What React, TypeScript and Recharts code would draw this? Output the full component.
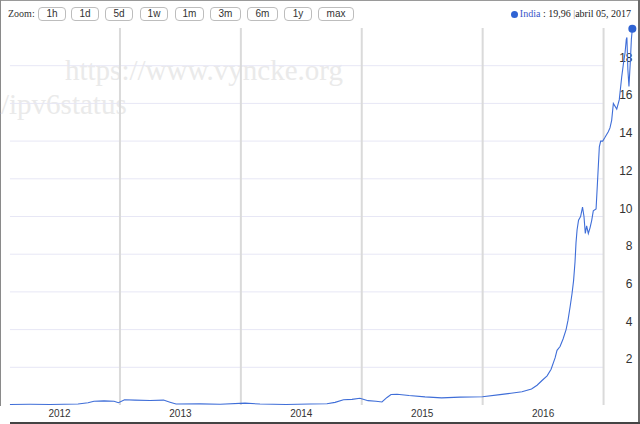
import React from 'react';
import { LineChart, Line, XAxis, YAxis, ReferenceLine, ReferenceDot } from 'recharts';

// decimal-year dates of the samples
const dates = [
  2012.09, 2012.256, 2012.421, 2012.653, 2012.736, 2012.785, 2012.868, 2012.951, 2012.988,
  2013.038, 2013.124, 2013.249, 2013.36, 2013.414, 2013.464, 2013.662, 2013.828,
  2014.034, 2014.158, 2014.373, 2014.572, 2014.712, 2014.779, 2014.849, 2014.919, 2014.985,
  2015.052, 2015.118, 2015.167, 2015.209, 2015.242, 2015.292, 2015.391, 2015.523, 2015.66,
  2015.813, 2015.999, 2016.143, 2016.234, 2016.325, 2016.404, 2016.45, 2016.491, 2016.533,
  2016.566, 2016.599, 2016.615, 2016.64, 2016.665, 2016.69, 2016.706, 2016.723, 2016.739,
  2016.752, 2016.764, 2016.772, 2016.781, 2016.793, 2016.81, 2016.826, 2016.838, 2016.849,
  2016.86, 2016.874, 2016.888, 2016.902, 2016.915, 2016.938, 2016.948, 2016.965, 2016.976,
  2016.993, 2017.012, 2017.039, 2017.053, 2017.067, 2017.081, 2017.109, 2017.13, 2017.15,
  2017.164, 2017.178, 2017.188, 2017.193, 2017.201, 2017.21, 2017.222, 2017.23, 2017.238,
];

// India IPv6 share (%)
const india = [
  0.03, 0.04, 0.03, 0.05, 0.12, 0.2, 0.22, 0.2, 0.12,
  0.28, 0.26, 0.24, 0.26, 0.15, 0.05, 0.06, 0.04,
  0.1, 0.05, 0.03, 0.05, 0.07, 0.14, 0.28, 0.3, 0.36,
  0.23, 0.2, 0.16, 0.4, 0.56, 0.57, 0.5, 0.43, 0.38,
  0.42, 0.44, 0.55, 0.62, 0.7, 0.85, 1.05, 1.3, 1.55,
  1.9, 2.5, 2.9, 3.1, 3.5, 4.0, 4.5, 5.2, 5.9,
  6.6, 7.6, 8.6, 9.3, 9.8, 10.0, 10.5, 10.0, 9.1,
  9.5, 9.1, 9.4, 9.8, 10.3, 10.4, 11.6, 13.7, 14.0,
  14.0, 14.2, 14.5, 14.7, 15.1, 16.0, 15.7, 16.2, 17.4,
  18.1, 18.7, 19.4, 19.5, 17.8, 16.9, 18.3, 19.4, 19.96,
];

const yTicks = [2, 4, 6, 8, 10, 12, 14, 16, 18];
const yearTicks = [2012.5, 2013.5, 2014.5, 2015.5, 2016.5];
const yearLabels = ['2012', '2013', '2014', '2015', '2016'];
const yearBoundaries = [2013, 2014, 2015, 2016, 2017];
const zoomButtons = ['1h', '1d', '5d', '1w', '1m', '3m', '6m', '1y', 'max'];
const zoomButtonX = [38, 71, 105, 140, 175, 210, 247, 284, 318];
const zoomButtonW = [28, 28, 28, 28, 29, 31, 31, 28, 36];
const seriesName = 'India';
const lastValueText = '19,96';
const lastDateText = 'abril 05, 2017';
const watermark1 = 'https://www.vyncke.org';
const watermark2 = '/ipv6status';

const xDomain: [number, number] = [2012.074, 2017.26];
const data = dates.map((t, i) => ({ t, v: india[i] }));

const LINE_BLUE = '#3f6ed8';

const XTick = (props: any) => {
  const { x, y, payload } = props;
  const idx = yearTicks.indexOf(payload.value);
  return (
    <text x={x} y={y} dy={3.6} textAnchor="middle" fontSize={10}
      fontFamily="'Liberation Sans', Arial, sans-serif" fill="#333">
      {idx >= 0 ? yearLabels[idx] : ''}
    </text>
  );
};

const makeYLabel = (value: number) => (props: any) => {
  const vb = props.viewBox || {};
  return (
    <text x={vb.x + vb.width - 2.5} y={vb.y} dy={-4} textAnchor="end" fontSize={12}
      fontFamily="'Liberation Sans', Arial, sans-serif" fill="#333">
      {value}
    </text>
  );
};

export default function App() {
  const last = data[data.length - 1];
  return (
    <div style={{ position: 'absolute', left: 0, top: 0, width: 640, height: 424, background: '#fff', overflow: 'hidden' }}>
      {/* frame */}
      <div style={{ position: 'absolute', left: 0, top: 0, width: 640, height: 1, background: '#9a9a9a' }} />
      <div style={{ position: 'absolute', left: 0, top: 0, width: 1, height: 406, background: '#8a8a8a' }} />
      <div style={{ position: 'absolute', left: 638, top: 0, width: 2, height: 424, background: '#6a6a6a' }} />
      <div style={{ position: 'absolute', left: 10, top: 422, width: 630, height: 2, background: '#444' }} />

      {/* watermark */}
      <svg width={640} height={424} style={{ position: 'absolute', left: 0, top: 0 }}>
        <text x={65} y={80} fontSize={29} fontFamily="'Liberation Serif', 'Times New Roman', serif" fill="#eaeaea">{watermark1}</text>
        <text x={1} y={114} fontSize={29} fontFamily="'Liberation Serif', 'Times New Roman', serif" fill="#eaeaea">{watermark2}</text>
      </svg>

      {/* toolbar */}
      <div style={{ position: 'absolute', left: 8, top: 7, fontFamily: "'Liberation Serif', 'Times New Roman', serif", fontSize: 10, color: '#333', lineHeight: '14px' }}>Zoom:</div>
      {zoomButtons.map((b, i) => (
        <div key={b} style={{
          position: 'absolute', left: zoomButtonX[i], top: 7, width: zoomButtonW[i] - 2, height: 12,
          border: '1px solid #bdbdbd', borderRadius: 4, fontFamily: "'Liberation Sans', Arial, sans-serif",
          fontSize: 10, color: '#333', textAlign: 'center', lineHeight: '12px', background: '#fff',
        }}>{b}</div>
      ))}

      {/* legend */}
      <div style={{ position: 'absolute', right: 9, top: 7, fontFamily: "'Liberation Serif', 'Times New Roman', serif", fontSize: 10, color: '#222', lineHeight: '14px', whiteSpace: 'nowrap', display: 'flex', alignItems: 'center' }}>
        <span style={{ display: 'inline-block', width: 7, height: 7, borderRadius: '50%', background: '#2f63d3', marginRight: 2 }} />
        <span style={{ color: '#3a55c8' }}>{seriesName}</span>
        <span>&nbsp;: {lastValueText}&nbsp;</span>
        <span style={{ color: '#888' }}>|</span>
        <span>{lastDateText}</span>
      </div>

      <div style={{ position: 'absolute', left: 0, top: 0 }}>
        <LineChart width={640} height={424} data={data} margin={{ top: 28, right: 5, bottom: 0, left: 8 }}>
          <XAxis dataKey="t" type="number" domain={xDomain} allowDataOverflow ticks={yearTicks}
            axisLine={false} tickLine={false} height={19} tick={<XTick />} interval={0} />
          <YAxis type="number" domain={[0, 20]} hide allowDataOverflow />
          {yTicks.map((v) => (
            <ReferenceLine key={'h' + v} segment={[{ x: 2012.09, y: v }, { x: 2017, y: v }]} stroke="#e7e7f5" strokeWidth={1} />
          ))}
          {yearBoundaries.map((yb) => (
            <ReferenceLine key={'v' + yb} x={yb} stroke="#dadada" strokeWidth={2} />
          ))}
          {yTicks.map((v) => (
            <ReferenceLine key={'l' + v} y={v} stroke="none" strokeOpacity={0} label={makeYLabel(v)} />
          ))}
          <Line type="linear" dataKey="v" stroke={LINE_BLUE} strokeWidth={1.1} dot={false} isAnimationActive={false} />
          <ReferenceDot x={last.t} y={last.v} r={4} fill="#2f63d3" stroke="none" />
        </LineChart>
      </div>
    </div>
  );
}
